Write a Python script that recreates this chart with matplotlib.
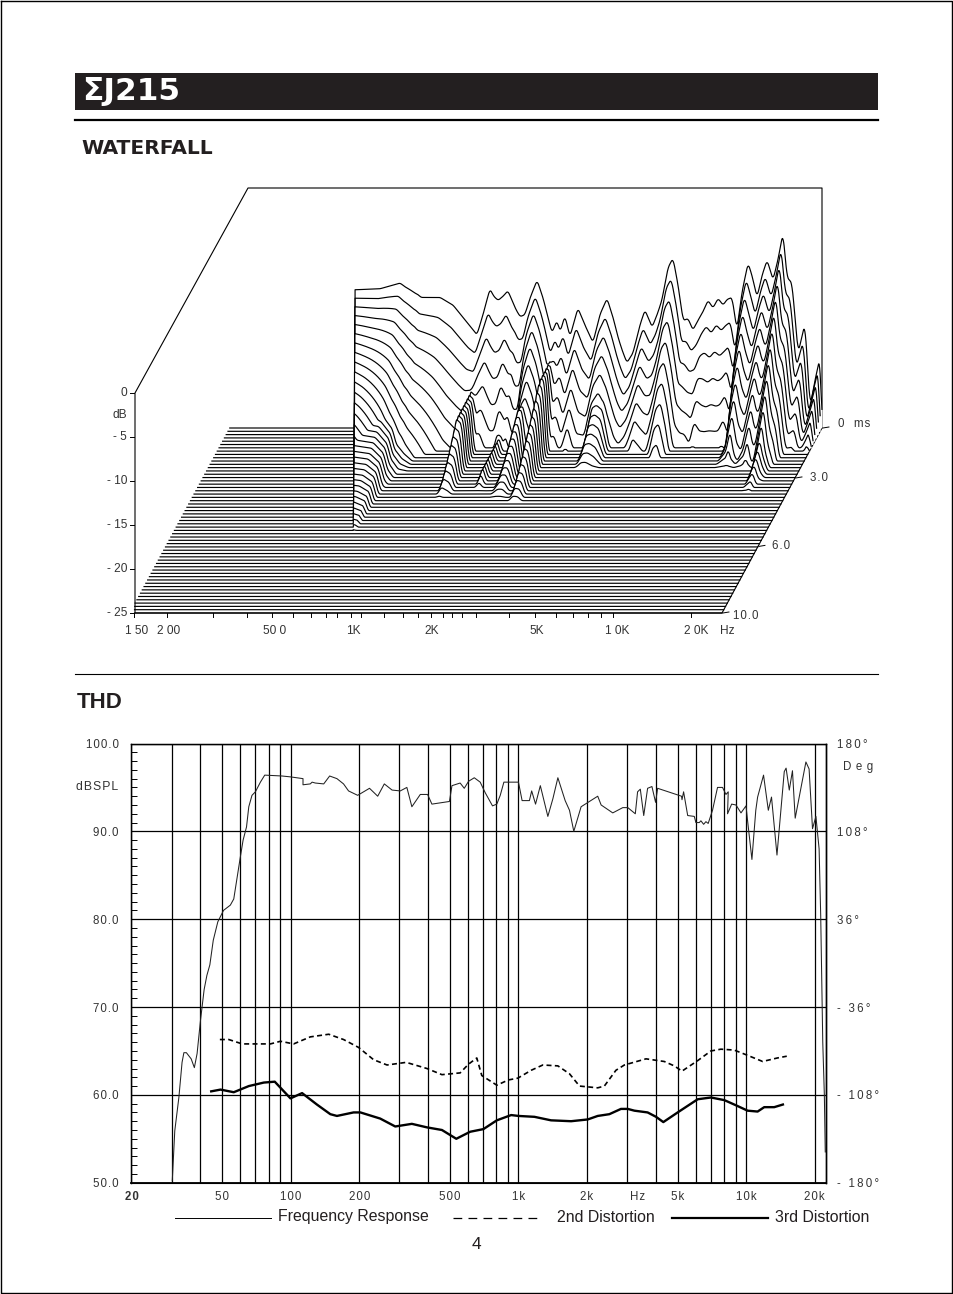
import matplotlib
matplotlib.use('Agg')
import matplotlib.pyplot as plt
import numpy as np

plt.rcParams['font.family'] = ['Liberation Sans', 'DejaVu Sans']
plt.rcParams['font.size'] = 8

INK = '#231f20'
GREY = '#333333'

# --- THD chart, frequencies as log10(Hz), levels in dB SPL ---
fr_logf = [1.480, 1.491, 1.509, 1.523, 1.531, 1.542, 1.563, 1.577, 1.589, 1.604, 1.620, 1.632, 1.645, 1.660, 1.680,
           1.705, 1.735, 1.750, 1.765, 1.779, 1.791, 1.806, 1.816, 1.830, 1.845, 1.867, 1.886, 1.962, 1.999, 2.054,
           2.054, 2.086, 2.094, 2.108, 2.145, 2.171, 2.203, 2.232, 2.254, 2.294, 2.320, 2.346, 2.382, 2.411, 2.445,
           2.481, 2.510, 2.532, 2.569, 2.601, 2.620, 2.697, 2.708, 2.744, 2.762, 2.781, 2.806, 2.832, 2.854, 2.886,
           2.905, 2.920, 2.936, 3.000, 3.016, 3.048, 3.058, 3.075, 3.096, 3.129, 3.151, 3.173, 3.205, 3.224, 3.243,
           3.275, 3.348, 3.363, 3.414, 3.458, 3.480, 3.513, 3.523, 3.535, 3.550, 3.567, 3.586, 3.602, 3.611, 3.716,
           3.718, 3.725, 3.743, 3.772, 3.779, 3.794, 3.801, 3.813, 3.823, 3.833, 3.852, 3.874, 3.896, 3.911, 3.921,
           3.918, 3.936, 3.955, 3.977, 3.999, 4.006, 4.025, 4.042, 4.050, 4.076, 4.097, 4.111, 4.135, 4.167, 4.175,
           4.189, 4.203, 4.215, 4.262, 4.276, 4.291, 4.306, 4.320, 4.327, 4.336, 4.343, 4.347]
fr_db = [50.2, 55.9, 59.7, 63.7, 64.8, 64.8, 64.1, 63.1, 64.7, 68.5, 72.0, 73.6, 74.8, 77.6, 79.7,
         81.0, 81.6, 82.3, 84.8, 87.1, 89.0, 90.5, 92.8, 94.1, 94.5, 95.6, 96.4, 96.3, 96.2, 96.0,
         95.3, 95.4, 95.6, 95.5, 95.4, 96.3, 96.0, 95.4, 94.6, 94.1, 94.5, 94.9, 94.0, 95.4, 94.7,
         94.6, 95.0, 92.8, 94.2, 94.2, 93.1, 93.4, 95.2, 95.5, 94.9, 95.7, 96.1, 95.6, 94.4, 92.9,
         93.1, 94.1, 95.6, 95.6, 93.5, 93.5, 94.6, 93.1, 95.2, 91.7, 93.7, 96.1, 93.5, 92.4, 90.0,
         92.8, 94.0, 93.0, 92.1, 92.7, 92.7, 92.0, 94.5, 94.8, 91.8, 94.9, 95.1, 93.3, 94.9, 94.0,
         93.6, 94.5, 91.8, 91.7, 91.0, 91.0, 91.2, 90.8, 91.1, 90.9, 92.4, 95.0, 95.0, 94.2, 94.5,
         92.0, 93.1, 93.0, 92.1, 92.9, 91.2, 86.8, 92.4, 93.9, 96.4, 92.4, 93.9, 87.3, 96.8, 97.2,
         94.7, 96.9, 91.5, 97.9, 97.1, 90.3, 91.7, 88.0, 80.4, 66.0, 60.0, 53.5]

second_logf = [1.689, 1.728, 1.787, 1.852, 1.911, 1.955, 2.013, 2.086, 2.167, 2.232, 2.298, 2.364, 2.423, 2.507, 2.598,
               2.664, 2.744, 2.781, 2.817, 2.839, 2.905, 2.956, 2.997, 3.056, 3.107, 3.173, 3.224, 3.268, 3.348, 3.377,
               3.428, 3.465, 3.560, 3.640, 3.684, 3.718, 3.787, 3.845, 3.889, 3.947, 4.006, 4.072, 4.137, 4.178]
second_db = [66.3, 66.3, 65.8, 65.8, 65.8, 66.1, 65.8, 66.6, 66.9, 66.3, 65.4, 64.0, 63.4, 63.7, 63.0,
             62.3, 62.5, 63.5, 64.2, 62.2, 61.1, 61.7, 61.9, 62.8, 63.4, 63.3, 62.4, 61.0, 60.8, 61.0,
             62.8, 63.4, 64.1, 63.8, 63.3, 62.7, 63.9, 65.0, 65.2, 65.1, 64.5, 63.8, 64.2, 64.4]

third_logf = [1.651, 1.692, 1.750, 1.816, 1.882, 1.930, 1.999, 2.050, 2.115, 2.174, 2.203, 2.276, 2.306, 2.393, 2.459,
              2.532, 2.598, 2.664, 2.727, 2.788, 2.846, 2.905, 2.968, 3.000, 3.070, 3.143, 3.231, 3.304, 3.348, 3.399,
              3.450, 3.480, 3.509, 3.567, 3.604, 3.636, 3.699, 3.787, 3.845, 3.904, 3.956, 4.006, 4.050, 4.079, 4.123,
              4.161]
third_db = [60.4, 60.6, 60.3, 61.0, 61.4, 61.5, 59.6, 60.2, 58.9, 57.8, 57.6, 58.0, 58.0, 57.3, 56.4,
            56.7, 56.3, 56.0, 55.0, 55.8, 56.1, 57.1, 57.7, 57.6, 57.5, 57.1, 57.0, 57.2, 57.6, 57.8,
            58.4, 58.4, 58.2, 58.0, 57.5, 56.9, 58.0, 59.5, 59.7, 59.4, 58.8, 58.2, 58.1, 58.6, 58.6,
            58.9]

spl_ticks = [50, 60, 70, 80, 90, 100]
spl_labels = ['50.0', '60.0', '70.0', '80.0', '90.0', '100.0']
deg_ticks = [-180, -108, -36, 36, 108, 180]
deg_labels = ['- 180°', '- 108°', '- 36°', '36°', '108°', '180°']
hz_ticks = [20, 50, 100, 200, 500, 1000, 2000, 5000, 10000, 20000]
hz_labels = ['20', '50', '100', '200', '500', '1k', '2k', '5k', '10k', '20k']

# --- waterfall, per frequency: level at 0 ms and time the first fast decay would take to hit the floor ---
wf_logf = [2.577, 2.634, 2.728, 2.804, 2.823, 2.842, 2.857, 2.872, 2.883, 2.955, 3.004, 3.042, 3.068, 3.094, 3.117,
           3.143, 3.158, 3.174, 3.192, 3.211, 3.234, 3.242, 3.257, 3.275, 3.294, 3.321, 3.343, 3.358, 3.377, 3.396,
           3.408, 3.426, 3.445, 3.475, 3.502, 3.532, 3.558, 3.585, 3.608, 3.626, 3.642, 3.660, 3.683, 3.709, 3.728,
           3.755, 3.774, 3.792, 3.815, 3.834, 3.853, 3.872, 3.891, 3.909, 3.928, 3.947, 3.966, 3.985, 4.004, 4.023,
           4.038, 4.057, 4.075, 4.094, 4.117, 4.132, 4.151, 4.170, 4.189, 4.200, 4.211, 4.230, 4.249, 4.264, 4.283,
           4.306, 4.332, 4.351, 4.370, 4.389, 4.396]
wf_head_db = [-10.6, -10.6, -10.5, -9.9, -10.3, -10.6, -10.9, -11.1, -11.4, -11.4, -12.2, -13.5, -14.4, -15.3, -13.2,
              -10.5, -11.3, -11.7, -11.3, -10.7, -12.2, -12.7, -13.4, -13.2, -11.5, -9.6, -11.4, -13.0, -15.1, -13.8,
              -15.0, -13.3, -15.5, -12.5, -14.3, -16.1, -13.2, -11.5, -13.5, -15.5, -16.9, -18.2, -17.2, -14.3, -12.7,
              -14.5, -13.2, -11.7, -8.3, -7.3, -10.1, -13.8, -13.6, -14.8, -13.8, -12.9, -11.7, -12.5, -11.5, -12.2,
              -11.6, -11.4, -14.8, -10.9, -7.8, -9.1, -11.4, -9.1, -7.5, -8.5, -9.6, -7.5, -4.6, -9.3, -9.9,
              -17.2, -14.1, -22.8, -20.0, -17.6, -24.2]
wf_decay_ms = [5.0, 5.0, 3.9, 2.7, 2.4, 2.2, 2.0, 1.9, 1.8, 1.4, 1.15, 1.05, 1.0, 1.1, 1.2,
               1.2, 1.1, 1.0, 1.0, 1.2, 1.1, 1.2, 1.0, 1.0, 1.6, 2.0, 1.8, 1.5, 1.0, 1.2,
               1.2, 1.2, 1.0, 1.3, 1.0, 1.0, 1.4, 1.5, 1.4, 1.2, 1.0, 0.9, 1.0, 1.2, 1.4,
               1.3, 1.2, 1.4, 1.7, 1.75, 1.5, 1.1, 1.0, 1.0, 0.9, 1.1, 1.0, 1.0, 1.0, 1.0,
               1.0, 1.1, 1.0, 1.8, 2.2, 1.8, 1.7, 2.0, 2.3, 2.0, 2.0, 2.4, 2.8, 2.3, 2.0,
               1.3, 1.3, 1.0, 1.2, 1.4, 0.8]
# slower late ridges that outlast the first decay: start level, plateau they cannot exceed, time to reach the floor
tail_logf = [2.577, 2.728, 2.804, 2.842, 2.857, 2.883, 2.917, 3.079, 3.094, 3.117, 3.132, 3.208, 3.223, 3.238, 3.283,
             3.306, 3.325, 3.343, 3.362, 3.377, 3.396, 3.411, 3.543, 3.566, 3.585, 3.608, 3.634, 4.072, 4.117, 4.143,
             4.170, 4.189, 4.208, 4.223, 4.238, 4.249, 4.264, 4.279, 4.396]
tail_db = [-17.5, -17.5, -18.0, -20.0, -21.5, -22.0, -25, -25, -13.0, -14.0, -25, -25, -15.0, -25, -25,
           -16.3, -16.3, -25, -25, -13.4, -14.5, -25, -25, -17.3, -16.6, -17.3, -25, -25, -16.6, -25,
           -17.6, -15.3, -25, -25, -17.6, -15.9, -19.7, -25, -25]
tail_top_db = [-5, -5, -5, -5, -5, -5, -25, -25, -19.7, -20.3, -25, -25, -23.5, -25, -25,
               -20.0, -20.0, -25, -25, -17.3, -17.6, -25, -25, -20.5, -20.5, -20.5, -25, -25, -19.7, -25,
               -20.8, -19.7, -25, -25, -20.8, -19.7, -21.3, -25, -25]
tail_decay_ms = [6.0, 5.8, 5.7, 5.6, 3.6, 2.5, 2.5, 3.8, 3.8, 3.7, 3.7, 3.4, 3.4, 3.4, 3.8,
                 3.8, 3.8, 3.8, 4.1, 4.1, 4.1, 4.1, 2.2, 2.3, 2.3, 2.2, 2.2, 2.2, 2.2, 2.2,
                 2.2, 2.3, 2.3, 3.5, 3.4, 3.5, 3.0, 3.0, 3.0]
# lowest frequency the analysis resolves at a given time
cut_ms = [0, 6]
cut_logf = [2.634, 2.853]

wf_hz_ticks = [150, 200, 300, 400, 500, 600, 700, 800, 880, 990, 1080, 1320, 1560, 1780, 1985, 2200, 2380, 2600,
               2940, 3900, 4900, 5900, 6800, 7800, 8700, 9700, 19000]
wf_ms_ticks = [0, 2.7, 6.4, 10]
wf_ms_labels = ['0  ms', '3.0', '6.0', '10.0']
wf_db_ticks = [0, -5, -10, -15, -20, -25]
wf_db_labels = ['0', '- 5', '- 10', '- 15', '- 20', '- 25']


def spaced(s, gap='\u200a'):
    return gap.join(s)


def project(logf, ms, db):
    x = 352 + 265 * (np.asarray(logf) - 3) + 100 * (1 - np.asarray(ms) / 10)
    floor = 428 + 18.5 * np.asarray(ms)
    y = floor - (9.6 - 0.08 * np.asarray(ms)) * (np.asarray(db) + 25)
    return x, y


fig = plt.figure(figsize=(9.54, 12.94), dpi=100)
page = fig.add_axes([0, 0, 1, 1])
page.set_xlim(0, 954)
page.set_ylim(1294, 0)
page.axis('off')

# page furniture
page.plot([0.5, 952.5, 952.5, 0.5, 0.5], [0.5, 0.5, 1293, 1293, 0.5], color='black', lw=1)
page.fill_between([75, 878], 73, 110, color=INK, lw=0)
page.plot([75, 878], [120, 120], color='black', lw=1.6)
page.plot([75, 878], [674, 674], color='black', lw=0.8)
page.text(82, 92, 'ΣJ215', color='white', fontsize=22.5, va='center', fontweight='bold', family=['DejaVu Sans'])
page.text(81, 148, 'WATERFALL', color=INK, fontsize=14.6, va='center', fontweight='bold', family=['DejaVu Sans'])
page.text(77, 702, 'THD', color=INK, fontsize=16, va='center', fontweight='bold')

# waterfall frame
page.plot([822, 822, 248, 135, 135, 722, 822], [428, 188, 188, 393, 613, 613, 428], color='black', lw=0.8, zorder=1)

# waterfall slices, back to front, each one hides what is behind it
grid = np.linspace(np.log10(145), 4.396, 2600)
head = np.interp(grid, wf_logf, wf_head_db) + 25
decay = np.interp(grid, wf_logf, wf_decay_ms)
tail = np.interp(grid, tail_logf, tail_db) + 25
tail_top = np.interp(grid, tail_logf, tail_top_db) + 25
tail_decay = np.interp(grid, tail_logf, tail_decay_ms)
head[grid < wf_logf[0]] = 0
tail[grid < tail_logf[0]] = 0
kernel = np.ones(15) / 15
slice_ms = np.linspace(0, 10, 57)
for i, ms in enumerate(slice_ms):
    late = np.minimum(tail * (1 - ms / tail_decay), tail_top)
    height = np.maximum(head * (1 - ms / decay), late)
    height = np.clip(height, 0, head)
    height = np.convolve(height, kernel, mode='same')
    height[grid < np.interp(ms, cut_ms, cut_logf)] = 0
    x, y = project(grid, ms, height - 25)
    x_f, y_f = project(grid, ms, -25)
    keep = x >= 134.5
    page.fill_between(x[keep], y[keep], y_f, color='white', lw=0, zorder=2 + i * 2)
    page.plot(x[keep], y[keep], color='black', lw=0.85, zorder=3 + i * 2, solid_joinstyle='round')

# waterfall axes
for hz in wf_hz_ticks:
    x, y = project(np.log10(hz), 10, -25)
    page.plot([x, x], [y, y + 3.5], color='black', lw=0.7)
for db, label in zip(wf_db_ticks, wf_db_labels):
    x, y = project(np.log10(150), 10, db)
    page.plot([x - 4, x], [y, y], color='black', lw=0.7)
    page.text(127, y, label, ha='right', va='center', color=GREY, fontsize=8.6)
page.text(127, 415, 'dB', ha='right', va='center', color=GREY, fontsize=8.6)
for ms, label, lx in zip(wf_ms_ticks, wf_ms_labels, [838, 810, 772, 733]):
    x, y = project(4.396, ms, -25)
    page.plot([x + 1, x + 7], [y, y - 1], color='black', lw=0.7)
    page.text(lx, y + (-4 if ms == 0 else 0) + (3 if ms == 10 else 0), spaced(label), ha='left', va='center',
              color=GREY, fontsize=8.3)
for cx, label in zip([137, 169, 275, 353, 432, 537, 617, 696, 727],
                     ['1 50', '2 00', '50 0', '1K', '2K', '5K', '1 0K', '2 0K', 'Hz']):
    page.text(cx, 631, label, ha='center', va='center', color=GREY, fontsize=8.6)

# THD chart
ax = fig.add_axes([131.5 / 954, (1294 - 1182.7) / 1294, (826 - 131.5) / 954, (1182.7 - 743.5) / 1294])
ax.set_xscale('log')
ax.set_xlim(20, 22400)
ax.set_ylim(50, 100)
ax.plot(10 ** np.array(fr_logf), fr_db, color='#222222', lw=0.75)
ax.plot(10 ** np.array(second_logf), second_db, color='black', lw=1.2, dashes=(3, 2))
ax.plot(10 ** np.array(third_logf), third_db, color='black', lw=1.7)

ax.xaxis.set_major_locator(matplotlib.ticker.LogLocator(base=10, subs=np.arange(1, 10), numticks=20))
ax.xaxis.set_minor_locator(matplotlib.ticker.NullLocator())
ax.xaxis.set_major_formatter(matplotlib.ticker.NullFormatter())
ax.set_yticks(spl_ticks)
ax.set_yticklabels([spaced(s) for s in spl_labels], color=GREY, fontsize=8.3)
ax.set_yticks(np.arange(50, 101), minor=True)
ax.grid(True, which='major', color='black', lw=0.9)
ax.set_axisbelow(True)
ax.tick_params(axis='x', which='both', length=0)
ax.tick_params(axis='y', which='major', length=0, pad=9)
ax.tick_params(axis='y', which='minor', direction='in', length=4.5, width=0.7, right=True)
for s in ax.spines.values():
    s.set_linewidth(1.0)
ax.spines['bottom'].set_linewidth(1.3)

for hz, label in zip(hz_ticks, hz_labels):
    ax.annotate(spaced(label), (hz, 50), xytext=(0, -10), textcoords='offset points', ha='center', va='center',
                color=GREY, fontsize=8.3, fontweight='bold' if hz == 20 else 'normal', annotation_clip=False)
ax.annotate(spaced('Hz'), (3350, 50), xytext=(0, -10), textcoords='offset points', ha='center', va='center',
            color=GREY, fontsize=8.3, annotation_clip=False)

deg = ax.twinx()
deg.set_ylim(-180, 180)
deg.set_yticks(deg_ticks)
deg.set_yticklabels([spaced(s, '\u2009') for s in deg_labels], color=GREY, fontsize=8.3)
deg.tick_params(axis='y', length=0, pad=8)
deg.spines['right'].set_linewidth(1.0)
page.text(843, 767, 'D\u2009\u2009e\u2009\u2009g', ha='left', va='center', color=GREY, fontsize=8.3)
page.text(76, 787, spaced('dBSPL'), ha='left', va='center', color=GREY, fontsize=8.8)

# legend
page.plot([175, 271], [1218, 1218], color='black', lw=0.7)
page.plot([453, 543], [1218, 1218], color='black', lw=0.9, dashes=(7, 5))
page.plot([672, 768], [1218, 1218], color='black', lw=1.6)
page.text(278, 1217, 'Frequency Response', va='center', color=INK, fontsize=11.4)
page.text(557, 1218, '2nd Distortion', va='center', color=INK, fontsize=11.4)
page.text(775, 1218, '3rd Distortion', va='center', color=INK, fontsize=11.4)
page.text(476, 1244.5, '4', ha='center', va='center', color=INK, fontsize=12.5)

plt.savefig('out.png', dpi=100)
